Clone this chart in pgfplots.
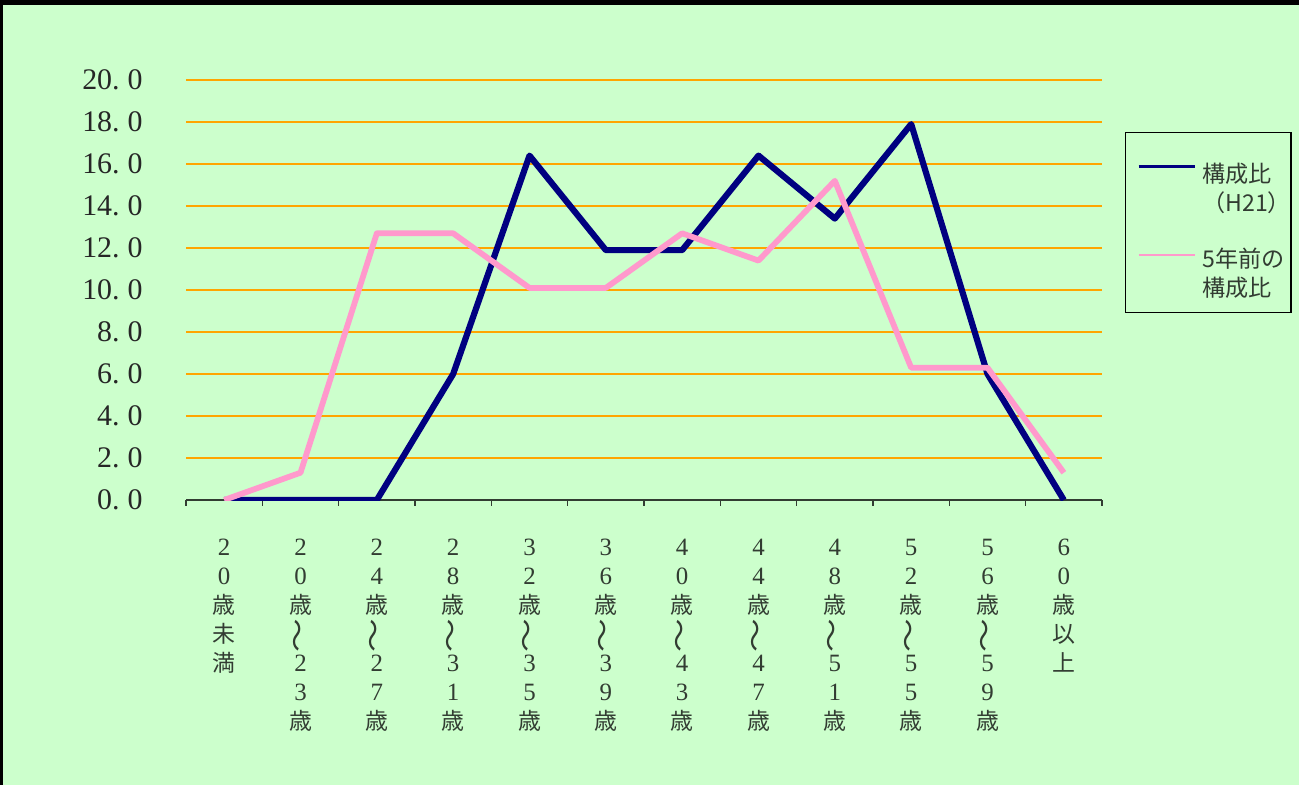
\documentclass[border=0pt]{standalone}
\usepackage{pgfplots}
\pgfplotsset{compat=1.18}
\usepackage{fontspec}
\usepackage{graphicx}
\setmainfont{Liberation Serif}
\newfontfamily\jp{Noto Sans CJK JP}
\definecolor{bg}{RGB}{204,255,204}
\definecolor{gridor}{RGB}{255,165,0}
\definecolor{navyline}{RGB}{0,0,128}
\definecolor{pinkline}{RGB}{255,153,204}
\definecolor{lab}{RGB}{50,60,50}
\newcommand\JP[1]{{\jp\fontsize{11.5}{14.5}\selectfont #1}}
\newcommand\Wv{\raisebox{0pt}[9pt][2pt]{\rotatebox[origin=c]{90}{\scalebox{1.35}[1.1]{\jp ～}}}}
\newcommand\Sai{\JP{歳}}
\newcommand\yl[1]{#1.\hspace{4pt}0}

\begin{document}
\begin{tikzpicture}
\useasboundingbox (0,0) rectangle (649.5bp,-392.5bp);
\fill[bg] (-2bp,2bp) rectangle (653bp,-396bp);
\fill[black] (-2bp,2bp) rectangle (653bp,-2.5bp);
\fill[black] (-2bp,2bp) rectangle (1.5bp,-396bp);
\begin{axis}[
  at={(93bp,-250bp)}, anchor=south west,
  scale only axis, width=458bp, height=210bp,
  xmin=-0.5, xmax=11.5, ymin=0, ymax=20,
  axis lines*=left, axis line style={-},
  x axis line style={draw=lab, line width=0.8pt},
  y axis line style={draw=none},
  xtick={0,...,11}, major x tick style={draw=none},
  minor xtick={-0.5,0.5,...,11.5},
  minor x tick style={draw=lab, line width=0.6pt},
  minor tick length=3pt, tick align=outside,
  xticklabels={
    {2\\0\\\Sai\\\JP{未}\\\JP{満}},
    {2\\0\\\Sai\\\Wv\\2\\3\\\Sai},
    {2\\4\\\Sai\\\Wv\\2\\7\\\Sai},
    {2\\8\\\Sai\\\Wv\\3\\1\\\Sai},
    {3\\2\\\Sai\\\Wv\\3\\5\\\Sai},
    {3\\6\\\Sai\\\Wv\\3\\9\\\Sai},
    {4\\0\\\Sai\\\Wv\\4\\3\\\Sai},
    {4\\4\\\Sai\\\Wv\\4\\7\\\Sai},
    {4\\8\\\Sai\\\Wv\\5\\1\\\Sai},
    {5\\2\\\Sai\\\Wv\\5\\5\\\Sai},
    {5\\6\\\Sai\\\Wv\\5\\9\\\Sai},
    {6\\0\\\Sai\\\JP{以}\\\JP{上}}},
  x tick label style={align=center, anchor=north, yshift=-12pt,
    font=\fontsize{12.5}{14.5}\selectfont, text=lab},
  ytick={2,4,...,20},
  yticklabels={\yl{2},\yl{4},\yl{6},\yl{8},\yl{10},\yl{12},\yl{14},\yl{16},\yl{18},\yl{20}},
  extra y ticks={0}, extra y tick labels={\yl{0}},
  extra y tick style={grid=none},
  ytick style={draw=none},
  y tick label style={font=\fontsize{15}{16}\selectfont, text=black!85, xshift=-14pt},
  ymajorgrids, major grid style={draw=gridor, line width=1.1pt},
  legend cell align=left,
  legend style={at={(1.0251,0.8762)}, anchor=north west, draw=black,
    line width=0.6pt, fill=none, font=\jp\fontsize{11.6}{14.5}\selectfont,
    text=lab, nodes={align=left, inner xsep=0pt},
    inner xsep=0pt, inner ysep=4.5pt, row sep=13pt},
]
\addplot[navyline, line width=3.1pt, line join=round,
  legend image code/.code={\path[draw=none] (0pt,0pt) -- (38.5pt,0pt);
    \draw[navyline, line width=1.5pt] (6.5pt,6.8pt) -- (35pt,6.8pt);}]
  coordinates {
  (0,0) (1,0) (2,0) (3,6.0) (4,16.4) (5,11.9)
  (6,11.9) (7,16.4) (8,13.4) (9,17.9) (10,6.0) (11,0)};
\addlegendentry{\rule{0pt}{18.5pt}構成比\\（H21）}
\addplot[pinkline, line width=2.9pt, line join=round, forget plot] coordinates {
  (0,0) (1,1.3) (2,12.7) (3,12.7) (4,10.1) (5,10.1)
  (6,12.7) (7,11.4) (8,15.2) (9,6.3) (10,6.3) (11,1.3)};
\addlegendimage{pinkline, line width=0.8pt,
  legend image code/.code={\path[draw=none] (0pt,0pt) -- (38.5pt,0pt);
    \draw[pinkline, line width=0.8pt] (6.5pt,9.6pt) -- (35pt,9.6pt);}}
\addlegendentry{5年前の\\構成比}
\end{axis}
\end{tikzpicture}
\end{document}
